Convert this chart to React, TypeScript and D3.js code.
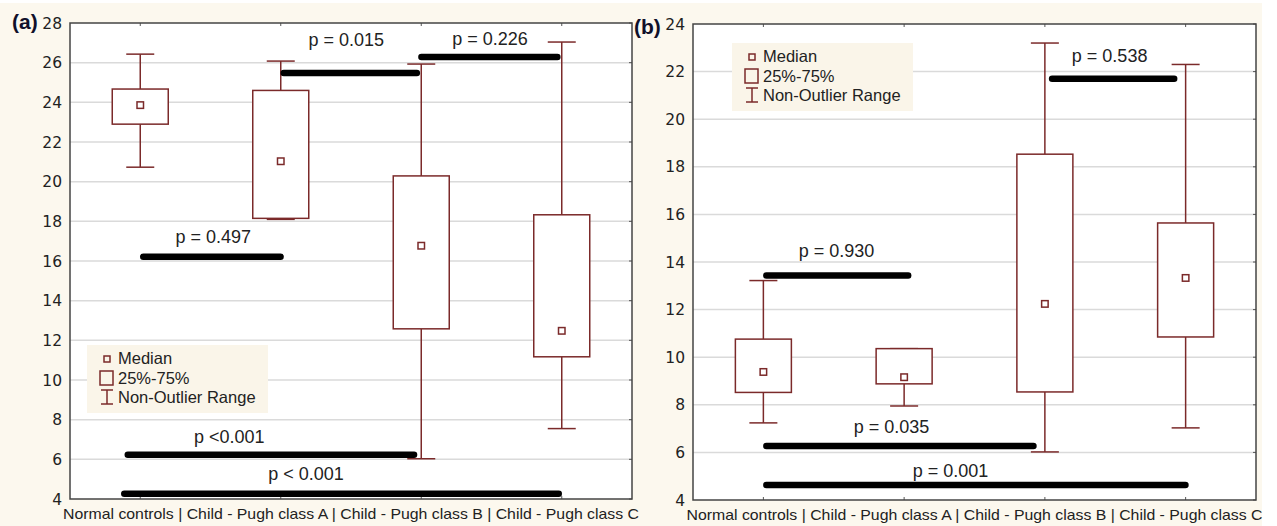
import React from "react";
import * as d3 from "d3";

// ---------- data ----------
const categories = ["Normal controls", "Child - Pugh class A", "Child - Pugh class B", "Child - Pugh class C"];

// Panel (a)
const aTicks = [4, 6, 8, 10, 12, 14, 16, 18, 20, 22, 24, 26, 28];
const aMin = [20.73, 18.1, 6.03, 7.55];
const aQ1 = [22.9, 18.15, 12.58, 11.17];
const aMedian = [23.86, 21.03, 16.77, 12.48];
const aQ3 = [24.67, 24.6, 20.29, 18.33];
const aMax = [26.43, 26.08, 25.93, 27.04];
const aSigText = ["p = 0.497", "p = 0.015", "p = 0.226", "p <0.001", "p < 0.001"];
const aSigFrom = [0, 1.0, 1.98, -0.11, -0.135];
const aSigTo = [1.02, 1.99, 2.99, 1.97, 3.0];
const aSigLevel = [16.21, 25.48, 26.28, 6.23, 4.26];
const aSigTextAt = [0.52, 1.466, 2.49, 0.633, 1.18];
const aSigTextLevel = [16.91, 26.84, 26.89, 6.82, 4.96];

// Panel (b)
const bTicks = [4, 6, 8, 10, 12, 14, 16, 18, 20, 22, 24];
const bMin = [7.24, 7.95, 6.02, 7.03];
const bQ1 = [8.52, 8.88, 8.54, 10.85];
const bMedian = [9.38, 9.16, 12.24, 13.33];
const bQ3 = [10.76, 10.36, 18.53, 15.64];
const bMax = [13.22, 10.36, 23.2, 22.3];
const bSigText = ["p = 0.930", "p = 0.538", "p = 0.035", "p = 0.001"];
const bSigFrom = [0, 2.03, 0, 0];
const bSigTo = [1.05, 2.94, 1.94, 3.02];
const bSigLevel = [13.43, 21.7, 6.27, 4.63];
const bSigTextAt = [0.52, 2.46, 0.91, 1.33];
const bSigTextLevel = [14.21, 22.4, 6.82, 4.97];

const legendLabels = ["Median", "25%-75%", "Non-Outlier Range"];

// ---------- style ----------
const W = 1277;
const H = 526;
const BOX = "#7b2a2a";
const GRID = "#dadada";
const BG = "#fcf8ee";
const TXT = "#222";
const FONT = "'Liberation Sans', Arial, sans-serif";
const TICKFONT = "'DejaVu Sans', Verdana, sans-serif";

type PanelProps = {
  tag: string;
  left: number;
  right: number;
  top: number;
  bottom: number;
  ticks: number[];
  mins: number[];
  q1: number[];
  med: number[];
  q3: number[];
  maxs: number[];
  sigText: string[];
  sigFrom: number[];
  sigTo: number[];
  sigLevel: number[];
  sigTextAt: number[];
  sigTextLevel: number[];
  legendX: number;
  legendY: number;
  tagX: number;
  tagY: number;
};

function Panel(p: PanelProps) {
  const y = d3
    .scaleLinear()
    .domain([p.ticks[0], p.ticks[p.ticks.length - 1]])
    .range([p.bottom, p.top]);
  const band = d3.scaleBand<string>().domain(categories).range([p.left, p.right]).padding(0);
  const bw = band.bandwidth();
  const cx = (c: string) => (band(c) as number) + bw / 2;
  const xi = d3.scaleLinear().domain([-0.5, categories.length - 0.5]).range([p.left, p.right]);
  const boxW = 56;
  const capW = 28;
  const medS = 6.5;

  return (
    <g>
      <rect x={p.left} y={p.top} width={p.right - p.left} height={p.bottom - p.top} fill="#fff" />
      {p.ticks.slice(1, -1).map((t) => (
        <line key={"g" + t} x1={p.left} x2={p.right} y1={y(t)} y2={y(t)} stroke={GRID} strokeWidth={1.5} />
      ))}
      {p.ticks.map((t) => (
        <line key={"rt" + t} x1={p.right - 3} x2={p.right} y1={y(t)} y2={y(t)} stroke="#555" strokeWidth={1} />
      ))}
      {categories.map((c) => (
        <g key={"ct" + c}>
          <line x1={cx(c)} x2={cx(c)} y1={p.top} y2={p.top + 3} stroke="#555" strokeWidth={1} />
          <line x1={cx(c)} x2={cx(c)} y1={p.bottom} y2={p.bottom - 3} stroke="#555" strokeWidth={1} />
        </g>
      ))}
      {p.ticks.map((t) => (
        <text
          key={"yl" + t}
          x={p.left - 8}
          y={y(t) + 5.5}
          textAnchor="end"
          fontFamily={TICKFONT}
          fontSize={15.5}
          fill={TXT}
        >
          {t}
        </text>
      ))}
      {categories.map((c, i) => {
        const x = cx(c);
        return (
          <g key={"b" + c} stroke={BOX} strokeWidth={1.5} fill="#fff">
            <line x1={x} x2={x} y1={y(p.maxs[i])} y2={y(p.q3[i])} />
            <line x1={x} x2={x} y1={y(p.q1[i])} y2={y(p.mins[i])} />
            <line x1={x - capW / 2} x2={x + capW / 2} y1={y(p.maxs[i])} y2={y(p.maxs[i])} />
            <line x1={x - capW / 2} x2={x + capW / 2} y1={y(p.mins[i])} y2={y(p.mins[i])} />
            <rect x={x - boxW / 2} y={y(p.q3[i])} width={boxW} height={y(p.q1[i]) - y(p.q3[i])} />
            <rect x={x - medS / 2} y={y(p.med[i]) - medS / 2} width={medS} height={medS} />
          </g>
        );
      })}
      {p.sigText.map((s, i) => (
        <g key={"s" + i}>
          <line
            x1={xi(p.sigFrom[i]) + 3}
            x2={xi(p.sigTo[i]) - 3}
            y1={y(p.sigLevel[i])}
            y2={y(p.sigLevel[i])}
            stroke="#000"
            strokeWidth={6.5}
            strokeLinecap="round"
          />
          <text
            x={xi(p.sigTextAt[i])}
            y={y(p.sigTextLevel[i])}
            textAnchor="middle"
            fontFamily={FONT}
            fontSize={18}
            fill={TXT}
          >
            {s}
          </text>
        </g>
      ))}
      <rect
        x={p.left}
        y={p.top}
        width={p.right - p.left}
        height={p.bottom - p.top}
        fill="none"
        stroke="#444"
        strokeWidth={1.5}
      />
      <g>
        <rect x={p.legendX} y={p.legendY} width={181} height={68} fill="#faf5e9" />
        <rect x={p.legendX + 17} y={p.legendY + 11} width={6} height={6} fill="none" stroke={BOX} strokeWidth={1.5} />
        <rect x={p.legendX + 13} y={p.legendY + 26} width={13} height={14} fill="none" stroke={BOX} strokeWidth={1.5} />
        <g stroke={BOX} strokeWidth={1.5}>
          <line x1={p.legendX + 20} x2={p.legendX + 20} y1={p.legendY + 45} y2={p.legendY + 59} />
          <line x1={p.legendX + 14} x2={p.legendX + 26} y1={p.legendY + 45} y2={p.legendY + 45} />
          <line x1={p.legendX + 14} x2={p.legendX + 26} y1={p.legendY + 59} y2={p.legendY + 59} />
        </g>
        {legendLabels.map((l, i) => (
          <text
            key={l}
            x={p.legendX + 31}
            y={p.legendY + 19 + i * 19.5}
            fontFamily={FONT}
            fontSize={16.5}
            fill={TXT}
          >
            {l}
          </text>
        ))}
      </g>
      <text
        x={(p.left + p.right) / 2}
        y={p.bottom + 20}
        textAnchor="middle"
        fontFamily={FONT}
        fontSize={14.5}
        fill={TXT}
        textLength={576}
        lengthAdjust="spacingAndGlyphs"
      >
        {categories.join(" | ")}
      </text>
      <text x={p.tagX} y={p.tagY} fontFamily={FONT} fontWeight="bold" fontSize={21} fill="#10102a">
        {p.tag}
      </text>
    </g>
  );
}

export default function App() {
  return (
    <svg width={W} height={H} style={{ position: "absolute", left: 0, top: 0, display: "block" }}>
      <rect x={0} y={0} width={W} height={H} fill="#fff" />
      <rect x={0} y={3} width={1262} height={H - 3} fill={BG} />
      <Panel
        tag="(a)"
        left={70}
        right={632}
        top={23}
        bottom={499}
        ticks={aTicks}
        mins={aMin}
        q1={aQ1}
        med={aMedian}
        q3={aQ3}
        maxs={aMax}
        sigText={aSigText}
        sigFrom={aSigFrom}
        sigTo={aSigTo}
        sigLevel={aSigLevel}
        sigTextAt={aSigTextAt}
        sigTextLevel={aSigTextLevel}
        legendX={87}
        legendY={345}
        tagX={12}
        tagY={29}
      />
      <Panel
        tag="(b)"
        left={693}
        right={1256}
        top={24}
        bottom={500}
        ticks={bTicks}
        mins={bMin}
        q1={bQ1}
        med={bMedian}
        q3={bQ3}
        maxs={bMax}
        sigText={bSigText}
        sigFrom={bSigFrom}
        sigTo={bSigTo}
        sigLevel={bSigLevel}
        sigTextAt={bSigTextAt}
        sigTextLevel={bSigTextLevel}
        legendX={732}
        legendY={43}
        tagX={634}
        tagY={34}
      />
    </svg>
  );
}
